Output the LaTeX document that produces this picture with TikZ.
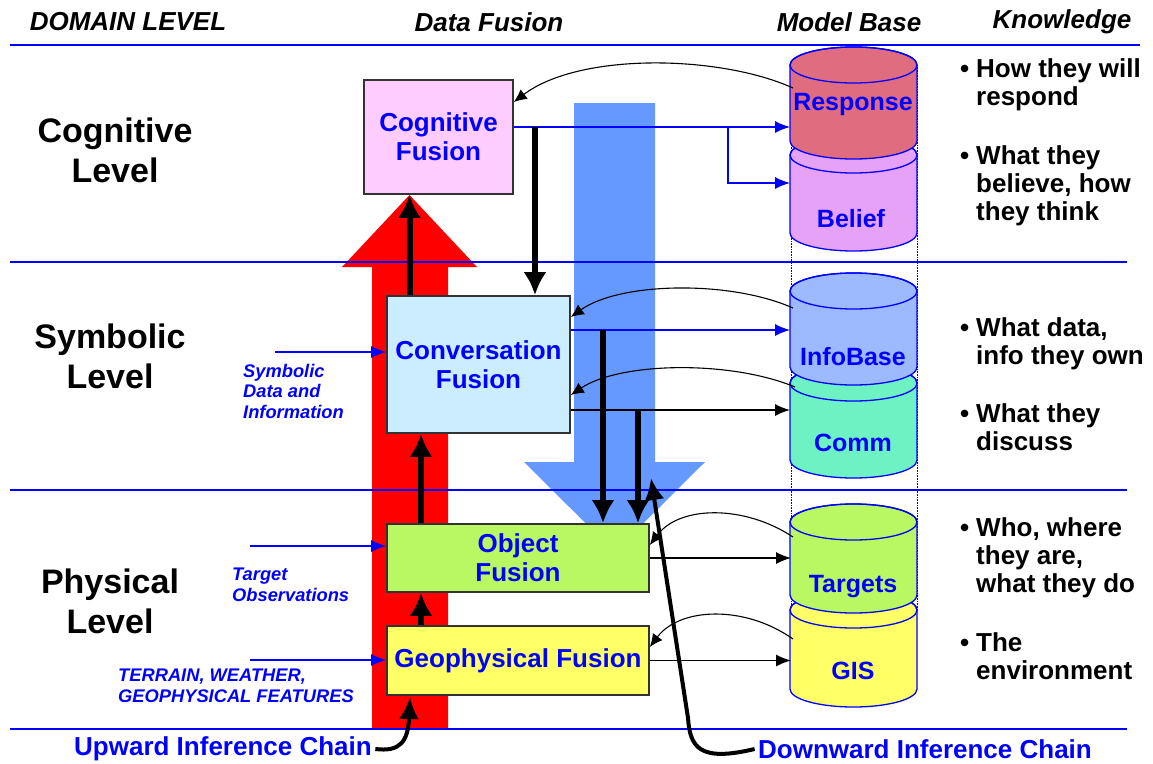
\documentclass[tikz,border=0pt]{standalone}
\usepackage{fontspec}
\setmainfont{Liberation Sans}
\usetikzlibrary{arrows.meta}
\definecolor{cogpink}{HTML}{FFCCFF}
\definecolor{convblue}{HTML}{CCECFF}
\definecolor{objgreen}{HTML}{B9F862}
\definecolor{geoyellow}{HTML}{FFFF66}
\definecolor{respred}{HTML}{E06C80}
\definecolor{belieflilac}{HTML}{E6A2F6}
\definecolor{infoblue}{HTML}{9DB9FF}
\definecolor{commmint}{HTML}{6EF2C3}
\definecolor{downblue}{HTML}{6699FF}
\definecolor{inkblue}{HTML}{0000FF}

\begin{document}
\begin{tikzpicture}[
    x=1pt, y=-1pt,
    >={Latex[length=15pt,width=12pt]},
    fusbox/.style={draw=black!80, line width=1.6pt, align=center, inner sep=2pt,
                   text=inkblue, font=\fontsize{26}{29}\selectfont\bfseries},
    lvltext/.style={align=center, font=\fontsize{34}{40}\selectfont\bfseries},
    headtext/.style={font=\fontsize{26}{28}\selectfont\bfseries\itshape},
    intext/.style={align=left, anchor=north west, inner sep=0pt, text=inkblue,
                   font=\fontsize{18.3}{20.5}\selectfont\bfseries\itshape},
    know/.style={align=left, anchor=north west, inner sep=0pt,
                 font=\fontsize{26}{28}\selectfont\bfseries},
    dbtext/.style={text=inkblue, font=\fontsize{25}{28}\selectfont\bfseries},
    chain/.style={text=inkblue, font=\fontsize{26}{28}\selectfont\bfseries},
    cyl/.style={draw=inkblue, line width=1.3pt},
    lvlline/.style={draw=inkblue, line width=1.4pt},
    bluearr/.style={->, inkblue, line width=1.3pt},
    thinarr/.style={->, black, line width=1.3pt},
    backarr/.style={-{Latex[length=13pt,width=12pt]}, black, line width=1.1pt},
    thickarr/.style={-{Latex[length=23pt,width=23pt]}, black, line width=6pt},
    chainarr/.style={-{Latex[length=22pt,width=20pt]}, black, line width=4pt},
]
\useasboundingbox (0,0) rectangle (1153,763);

% Big inference arrows (background)
\fill[red] (372,729) -- (372,267) -- (342,267) -- (409.5,195) -- (477,267)
    -- (448,267) -- (448,729) -- cycle;
\fill[downblue] (574,103) -- (655,103) -- (655,462) -- (705,462) -- (614.5,552)
    -- (524,462) -- (574,462) -- cycle;

% Level separators
\draw[lvlline, line width=2pt] (10,45) -- (1140,45);
\draw[lvlline] (10,262) -- (1127,262);
\draw[lvlline] (10,490) -- (1127,490);
\draw[lvlline] (10,729) -- (1127,729);

% Header row
\node[headtext] (hdom) at (128,22) {DOMAIN LEVEL};
\node[headtext] (hfus) at (489,22) {Data Fusion};
\node[headtext] (hmod) at (849,22) {Model Base};
\node[headtext] (hknow) at (1062,22) {Knowledge};

% Level names
\node[lvltext] (cogl) at (115,150) {Cognitive\\Level};
\node[lvltext] (syml) at (110,356) {Symbolic\\Level};
\node[lvltext] (phyl) at (110,601) {Physical\\Level};

% Model base cylinders
\draw[inkblue, densely dotted, line width=0.6pt] (791,65) -- (791,610);
\draw[inkblue, densely dotted, line width=0.6pt] (917,65) -- (917,610);
\filldraw[cyl, fill=belieflilac] (790,155) -- (790,233) arc (180:360:63.5pt and 18pt)
    -- (917,155) arc (0:180:63.5pt and 18pt) -- cycle;
\draw[cyl] (853.5,155) ellipse (63.5pt and 18pt);
\filldraw[cyl, fill=respred] (790,65) -- (790,141) arc (180:360:63.5pt and 18pt)
    -- (917,65) arc (0:180:63.5pt and 18pt) -- cycle;
\draw[cyl] (853.5,65) ellipse (63.5pt and 18pt);
\filldraw[cyl, fill=commmint] (790,383) -- (790,460) arc (180:360:63.5pt and 18pt)
    -- (917,383) arc (0:180:63.5pt and 18pt) -- cycle;
\draw[cyl] (853.5,383) ellipse (63.5pt and 18pt);
\filldraw[cyl, fill=infoblue] (790,291) -- (790,367) arc (180:360:63.5pt and 18pt)
    -- (917,291) arc (0:180:63.5pt and 18pt) -- cycle;
\draw[cyl] (853.5,291) ellipse (63.5pt and 18pt);
\filldraw[cyl, fill=geoyellow] (790,610) -- (790,689) arc (180:360:63.5pt and 18pt)
    -- (917,610) arc (0:180:63.5pt and 18pt) -- cycle;
\draw[cyl] (853.5,610) ellipse (63.5pt and 18pt);
\filldraw[cyl, fill=objgreen] (790,522) -- (790,595) arc (180:360:63.5pt and 18pt)
    -- (917,522) arc (0:180:63.5pt and 18pt) -- cycle;
\draw[cyl] (853.5,522) ellipse (63.5pt and 18pt);

\node[dbtext] (resp) at (853,104) {Response};
\node[dbtext] (belief) at (851,219) {Belief};
\node[dbtext] (info) at (853,357) {InfoBase};
\node[dbtext] (comm) at (853,443) {Comm};
\node[dbtext] (targ) at (853,587) {Targets};
\node[dbtext] (gis) at (853,671) {GIS};

% Knowledge column
\node[know] (k1) at (976,58.5) {\llap{\textbullet\hspace{7pt}}How they will\\respond};
\node[know] (k2) at (976,145.5) {\llap{\textbullet\hspace{7pt}}What they\\believe, how\\they think};
\node[know] (k3) at (976,317.5) {\llap{\textbullet\hspace{7pt}}What data,\\info they own};
\node[know] (k4) at (976,403.5) {\llap{\textbullet\hspace{7pt}}What they\\discuss};
\node[know] (k5) at (976,517.5) {\llap{\textbullet\hspace{7pt}}Who, where\\they are,\\what they do};
\node[know] (k6) at (976,632.5) {\llap{\textbullet\hspace{7pt}}The\\environment};

% Fusion boxes
\node[fusbox, fill=cogpink, minimum width=149pt, minimum height=114pt] (cog)
    at (438.5,137) {Cognitive\\Fusion};
\node[fusbox, fill=convblue, minimum width=183pt, minimum height=137pt] (conv)
    at (478.5,364.5) {Conversation\\Fusion};
\node[fusbox, fill=objgreen, minimum width=262pt, minimum height=68pt] (obj)
    at (518,558) {Object\\Fusion};
\node[fusbox, fill=geoyellow, minimum width=262pt, minimum height=69pt] (geo)
    at (518,660.5) {Geophysical Fusion};

% Input labels
\node[intext] (symlbl) at (243,364) {Symbolic\\Data and\\Information};
\node[intext] (tgtlbl) at (232,568) {Target\\Observations};
\node[intext] (terlbl) at (118,669) {TERRAIN, WEATHER,\\GEOPHYSICAL FEATURES};

% Chain labels
\node[chain] (upw) at (223,749) {Upward Inference Chain};
\node[chain] (dnw) at (925,749) {Downward Inference Chain};

% Junctions and rim points
\coordinate (redtip) at (409.5,195);
\coordinate (upline) at (421,600);
\coordinate (j1) at (535,127);
\coordinate (j2) at (728,127);
\coordinate (d1) at (603,330);
\coordinate (d2) at (638,410);
\coordinate (respIn) at (790,127);
\coordinate (beliefIn) at (790,183);
\coordinate (infoIn) at (790,330);
\coordinate (commIn) at (790,410);
\coordinate (targIn) at (791,558);
\coordinate (gisIn) at (791,660.5);
\coordinate (respOut) at (793,88);
\coordinate (infoOut) at (793,308);
\coordinate (commOut) at (795,387);
\coordinate (targOut) at (793,537);
\coordinate (gisOut) at (793,639);
\coordinate (symIn) at (275,352);
\coordinate (tgtIn) at (250,546);
\coordinate (terIn) at (250,660);
\coordinate (redfoot) at (410,697);
\coordinate (dtip) at (651,478);

% Cognitive level
\draw[bluearr] ([yshift=10pt]cog.east) -- (respIn);
\draw[bluearr] (j2) |- (beliefIn);
\draw[backarr] (respOut) .. controls (720,55) and (580,52) .. ([yshift=35pt]cog.east);
\draw[thickarr] (j1) -- (conv.north -| j1);
\draw[thickarr] (conv.north -| redtip) -- (cog.south -| redtip);

% Symbolic level
\draw[bluearr] (symIn) -- (conv.west |- symIn);
\draw[bluearr] ([yshift=34.5pt]conv.east) -- (infoIn);
\draw[thinarr] ([yshift=-45.5pt]conv.east) -- (commIn);
\draw[backarr] (infoOut) .. controls (730,280) and (620,282) .. ([yshift=47.5pt]conv.east);
\draw[backarr] (commOut) .. controls (730,360) and (620,362) .. ([yshift=-30.5pt]conv.east);
\draw[thickarr] (d1) -- (obj.north -| d1);
\draw[thickarr] (d2) -- (obj.north -| d2);
\draw[thickarr] (obj.north -| upline) -- (conv.south -| upline);

% Physical level
\draw[bluearr] (tgtIn) -- (obj.west |- tgtIn);
\draw[bluearr] (terIn) -- (geo.west |- terIn);
\draw[thinarr] (obj.east) -- (targIn);
\draw[thinarr] (geo.east) -- (gisIn);
\draw[backarr] (targOut) .. controls (745,505) and (680,505) .. ([yshift=13pt]obj.east);
\draw[backarr] (gisOut) .. controls (745,605) and (680,607) .. ([yshift=13.5pt]geo.east);
\draw[thickarr] (geo.north -| upline) -- (obj.south -| upline);

% Inference chains
\draw[chainarr] (upw.east) .. controls (400,752) and (408,742) .. (redfoot);
\draw[chainarr] (dnw.west) .. controls (700,762) and (690,748) .. (688,718) -- (dtip);
\end{tikzpicture}
\end{document}
